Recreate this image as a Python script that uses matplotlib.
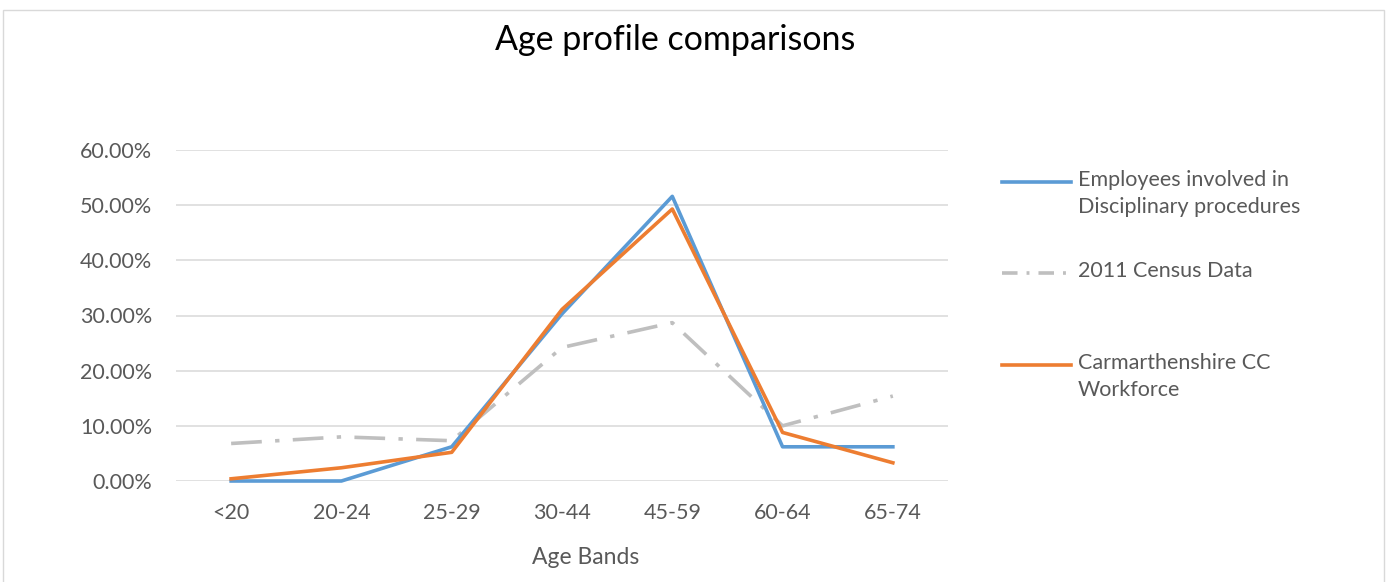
import matplotlib.pyplot as plt
from matplotlib.lines import Line2D
from matplotlib.patches import Rectangle
from matplotlib.ticker import PercentFormatter

plt.rcParams['font.family'] = ['Lato', 'DejaVu Sans']

# Data
age_bands = ['<20', '20-24', '25-29', '30-44', '45-59', '60-64', '65-74']
disciplinary = [0.0, 0.0, 0.062, 0.303, 0.516, 0.062, 0.062]
census_2011 = [0.068, 0.080, 0.073, 0.242, 0.287, 0.100, 0.154]
workforce = [0.004, 0.024, 0.052, 0.311, 0.493, 0.088, 0.033]

labels = ['Employees involved in\nDisciplinary procedures', '2011 Census Data',
          'Carmarthenshire CC\nWorkforce']
colors = ['#5B9BD5', '#BFBFBF', '#ED7D31']
text_col = '#595959'

W, H = 1389, 582
fig = plt.figure(figsize=(W / 100, H / 100), dpi=100)
ax = fig.add_axes([176 / W, 1 - 481 / H, (948 - 176) / W, (481 - 150) / H])

x = range(len(age_bands))
lw = 2.6
ax.plot(x, census_2011, color=colors[1], lw=lw, ls=(0, (8.5, 3.7, 1.2, 3.7)), clip_on=False)
ax.plot(x, disciplinary, color=colors[0], lw=lw, clip_on=False)
ax.plot(x, workforce, color=colors[2], lw=lw, clip_on=False)

ax.set_xlim(-0.5, len(age_bands) - 0.5)
ax.set_ylim(0, 0.6)
ax.set_yticks([i / 10 for i in range(7)])
ax.yaxis.set_major_formatter(PercentFormatter(1.0, decimals=2))
ax.set_xticks(list(x))
ax.set_xticklabels(age_bands)
ax.grid(axis='y', color='#D9D9D9', lw=1.1)
ax.set_axisbelow(True)
for s in ax.spines.values():
    s.set_visible(False)
ax.tick_params(axis='both', length=0, labelsize=15.5, labelcolor=text_col)
ax.tick_params(axis='y', pad=17)
ax.tick_params(axis='x', pad=16)

fig.text(675 / W, 1 - 40 / H, 'Age profile comparisons', ha='center', va='center',
         fontsize=24.5, color='black')
fig.text(586 / W, 1 - 557 / H, 'Age Bands', ha='center', va='center',
         fontsize=16.5, color=text_col)

# legend drawn on the right
leg_y = [182, 273, 365]
styles = ['-', (0, (4.3, 2.5, 0.8, 2.5)), '-']
for yy, lab, c, st in zip(leg_y, labels, colors, styles):
    fig.add_artist(Line2D([1002 / W, 1071 / W], [1 - yy / H] * 2, color=c, lw=lw, ls=st))
    fig.text(1078 / W, 1 - (yy - 12) / H, lab, ha='left', va='top', fontsize=15.5,
             color=text_col, linespacing=1.45)

fig.add_artist(Rectangle((3 / W, -0.1), (1384 - 3) / W, 1 - 10 / H + 0.1,
                         transform=fig.transFigure, fill=False, edgecolor='#D9D9D9', lw=1))

fig.savefig('out.png', dpi=100)
